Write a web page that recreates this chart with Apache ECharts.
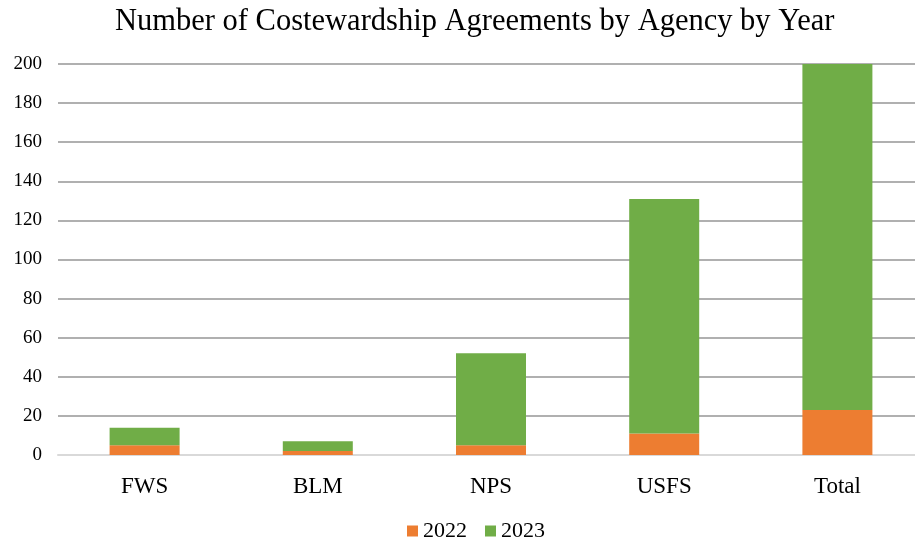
<!DOCTYPE html>
<html><head><meta charset="utf-8">
<script src="https://cdn.jsdelivr.net/npm/echarts@6/dist/echarts.min.js"></script>
<style>html,body{margin:0;padding:0;background:#fff}#c{width:915px;height:544px}</style>
</head><body><div id="c"></div>
<script>
const categories = ['FWS', 'BLM', 'NPS', 'USFS', 'Total'];
const values2022 = [5, 2, 5, 11, 23];
const values2023 = [9, 5, 47, 120, 177];
const seriesNames = ['2022', '2023'];
const yTicks = {min: 0, max: 200, interval: 20};

const font = '"Liberation Serif", "Times New Roman", serif';
const chart = echarts.init(document.getElementById('c'));
chart.setOption({
  animation: false,
  title: {
    text: 'Number of Costewardship Agreements by Agency by Year',
    left: 110, top: 1,
    textStyle: {fontFamily: font, fontSize: 30.5, fontWeight: 'normal', color: '#000'}
  },
  legend: {
    data: seriesNames, bottom: -3, left: 402,
    itemWidth: 11, itemHeight: 11, itemGap: 18,
    icon: 'rect',
    textStyle: {fontFamily: font, fontSize: 22, color: '#000'}
  },
  grid: {left: 58, width: 866, top: 64, bottom: 89, outerBoundsMode: 'none', containLabel: false},
  xAxis: {
    type: 'category', data: categories,
    axisLine: {lineStyle: {color: '#d9d9d9', width: 2}},
    axisTick: {show: false},
    axisLabel: {fontFamily: font, fontSize: 23, color: '#000', margin: 20}
  },
  yAxis: {
    type: 'value', min: yTicks.min, max: yTicks.max, interval: yTicks.interval,
    axisLine: {show: false}, axisTick: {show: false},
    axisLabel: {fontFamily: font, fontSize: 19, color: '#000', margin: 16},
    splitLine: {lineStyle: {color: '#b0b0b0', width: 2}}
  },
  series: [
    {name: seriesNames[0], type: 'bar', stack: 'a', data: values2022, barWidth: 70,
     itemStyle: {color: '#ED7D31'}},
    {name: seriesNames[1], type: 'bar', stack: 'a', data: values2023, barWidth: 70,
     itemStyle: {color: '#70AD47'}}
  ]
});
</script></body></html>
